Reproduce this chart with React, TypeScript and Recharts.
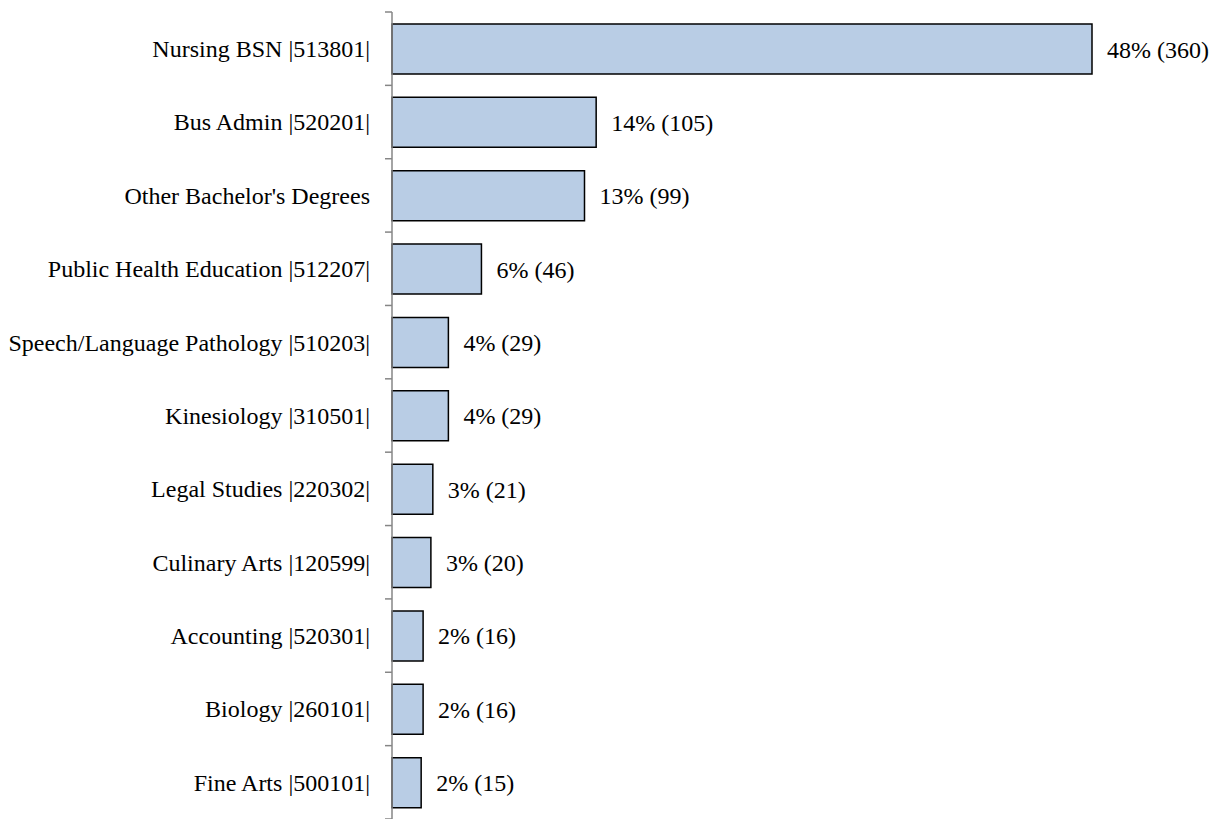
import { BarChart, Bar, XAxis, YAxis, LabelList } from 'recharts';

const programs = [
  'Nursing BSN |513801|',
  'Bus Admin |520201|',
  "Other Bachelor's Degrees",
  'Public Health Education |512207|',
  'Speech/Language Pathology |510203|',
  'Kinesiology |310501|',
  'Legal Studies |220302|',
  'Culinary Arts |120599|',
  'Accounting |520301|',
  'Biology |260101|',
  'Fine Arts |500101|',
];
const counts = [360, 105, 99, 46, 29, 29, 21, 20, 16, 16, 15];
const percents = ['48%', '14%', '13%', '6%', '4%', '4%', '3%', '3%', '2%', '2%', '2%'];

const WIDTH = 1212;
const HEIGHT = 819;
const AXIS_X = 392;
const TOP = 12;
const PLOT_H = HEIGHT - TOP;
const BAND = PLOT_H / programs.length;
const FONT = '"Liberation Serif", "Times New Roman", serif';

const data = programs.map((name, i) => ({
  name,
  count: counts[i],
  label: `${percents[i]} (${counts[i]})`,
}));

const CategoryTick = ({ y, payload, index }: any) => {
  const top = y - BAND / 2;
  return (
    <g>
      <line x1={AXIS_X - 7} x2={AXIS_X} y1={top} y2={top} stroke="#868686" strokeWidth={1.5} />
      {index === programs.length - 1 && (
        <line x1={AXIS_X - 7} x2={AXIS_X} y1={top + BAND} y2={top + BAND} stroke="#868686" strokeWidth={1.5} />
      )}
      <text x={AXIS_X - 22} y={y} dy="0.35em" textAnchor="end" fontFamily={FONT} fontSize={24} fill="#000">
        {payload.value}
      </text>
    </g>
  );
};

export default function App() {
  return (
    <div style={{ position: 'fixed', left: 0, top: 0, width: WIDTH, height: HEIGHT, background: '#fff', overflow: 'hidden' }}>
      <BarChart
        width={WIDTH}
        height={HEIGHT}
        data={data}
        layout="vertical"
        margin={{ top: TOP, right: WIDTH - 1092, bottom: 0, left: 0 }}
        barSize={50}
      >
        <XAxis type="number" domain={[0, 360]} hide />
        <YAxis
          type="category"
          dataKey="name"
          width={AXIS_X}
          axisLine={{ stroke: '#868686', strokeWidth: 1.5 }}
          tickLine={false}
          interval={0}
          tick={<CategoryTick />}
        />
        <Bar dataKey="count" fill="#b9cde5" stroke="#000" strokeWidth={1.5} isAnimationActive={false}>
          <LabelList
            dataKey="label"
            position="right"
            offset={15}
            style={{ fontFamily: FONT, fontSize: 24, fill: '#000' }}
          />
        </Bar>
      </BarChart>
    </div>
  );
}
